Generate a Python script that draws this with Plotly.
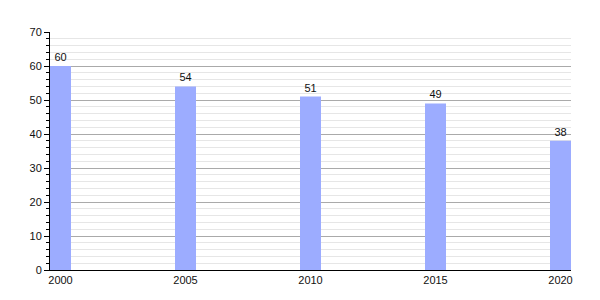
import plotly.graph_objects as go

years = [2000, 2005, 2010, 2015, 2020]
values = [60, 54, 51, 49, 38]
tick_labels = ["2000", "2005", "2010", "2015", "2020"]

fig = go.Figure(go.Bar(
    x=years, y=values, width=0.84,
    marker=dict(color="#9cacff", line=dict(width=0)),
    text=[str(v) for v in values], textposition="outside",
    textfont=dict(family="Liberation Sans, Arial", size=11, color="#111"),
    cliponaxis=False,
))

fig.update_layout(
    width=600, height=300,
    margin=dict(l=50, r=29, t=32, b=30),
    paper_bgcolor="white", plot_bgcolor="white",
    font=dict(family="Liberation Sans, Arial", size=11, color="#111"),
    showlegend=False,
    xaxis=dict(
        range=[1999.58, 2020.42], tickvals=years, ticktext=tick_labels,
        showgrid=False, zeroline=False, showline=True, linecolor="black", linewidth=1,
        ticks="", ticklen=0, tickfont=dict(size=11),
    ),
    yaxis=dict(
        range=[0, 70], dtick=10, showgrid=True, gridcolor="#aaaaaa", gridwidth=1,
        zeroline=False, showline=True, linecolor="black", linewidth=1,
        ticks="outside", ticklen=5, tickcolor="black", tickfont=dict(size=11),
        minor=dict(dtick=2, ticks="outside", ticklen=3, tickcolor="black",
                   showgrid=True, gridcolor="#e6e6e6", gridwidth=1),
    ),
)

fig.write_html("out.html")
